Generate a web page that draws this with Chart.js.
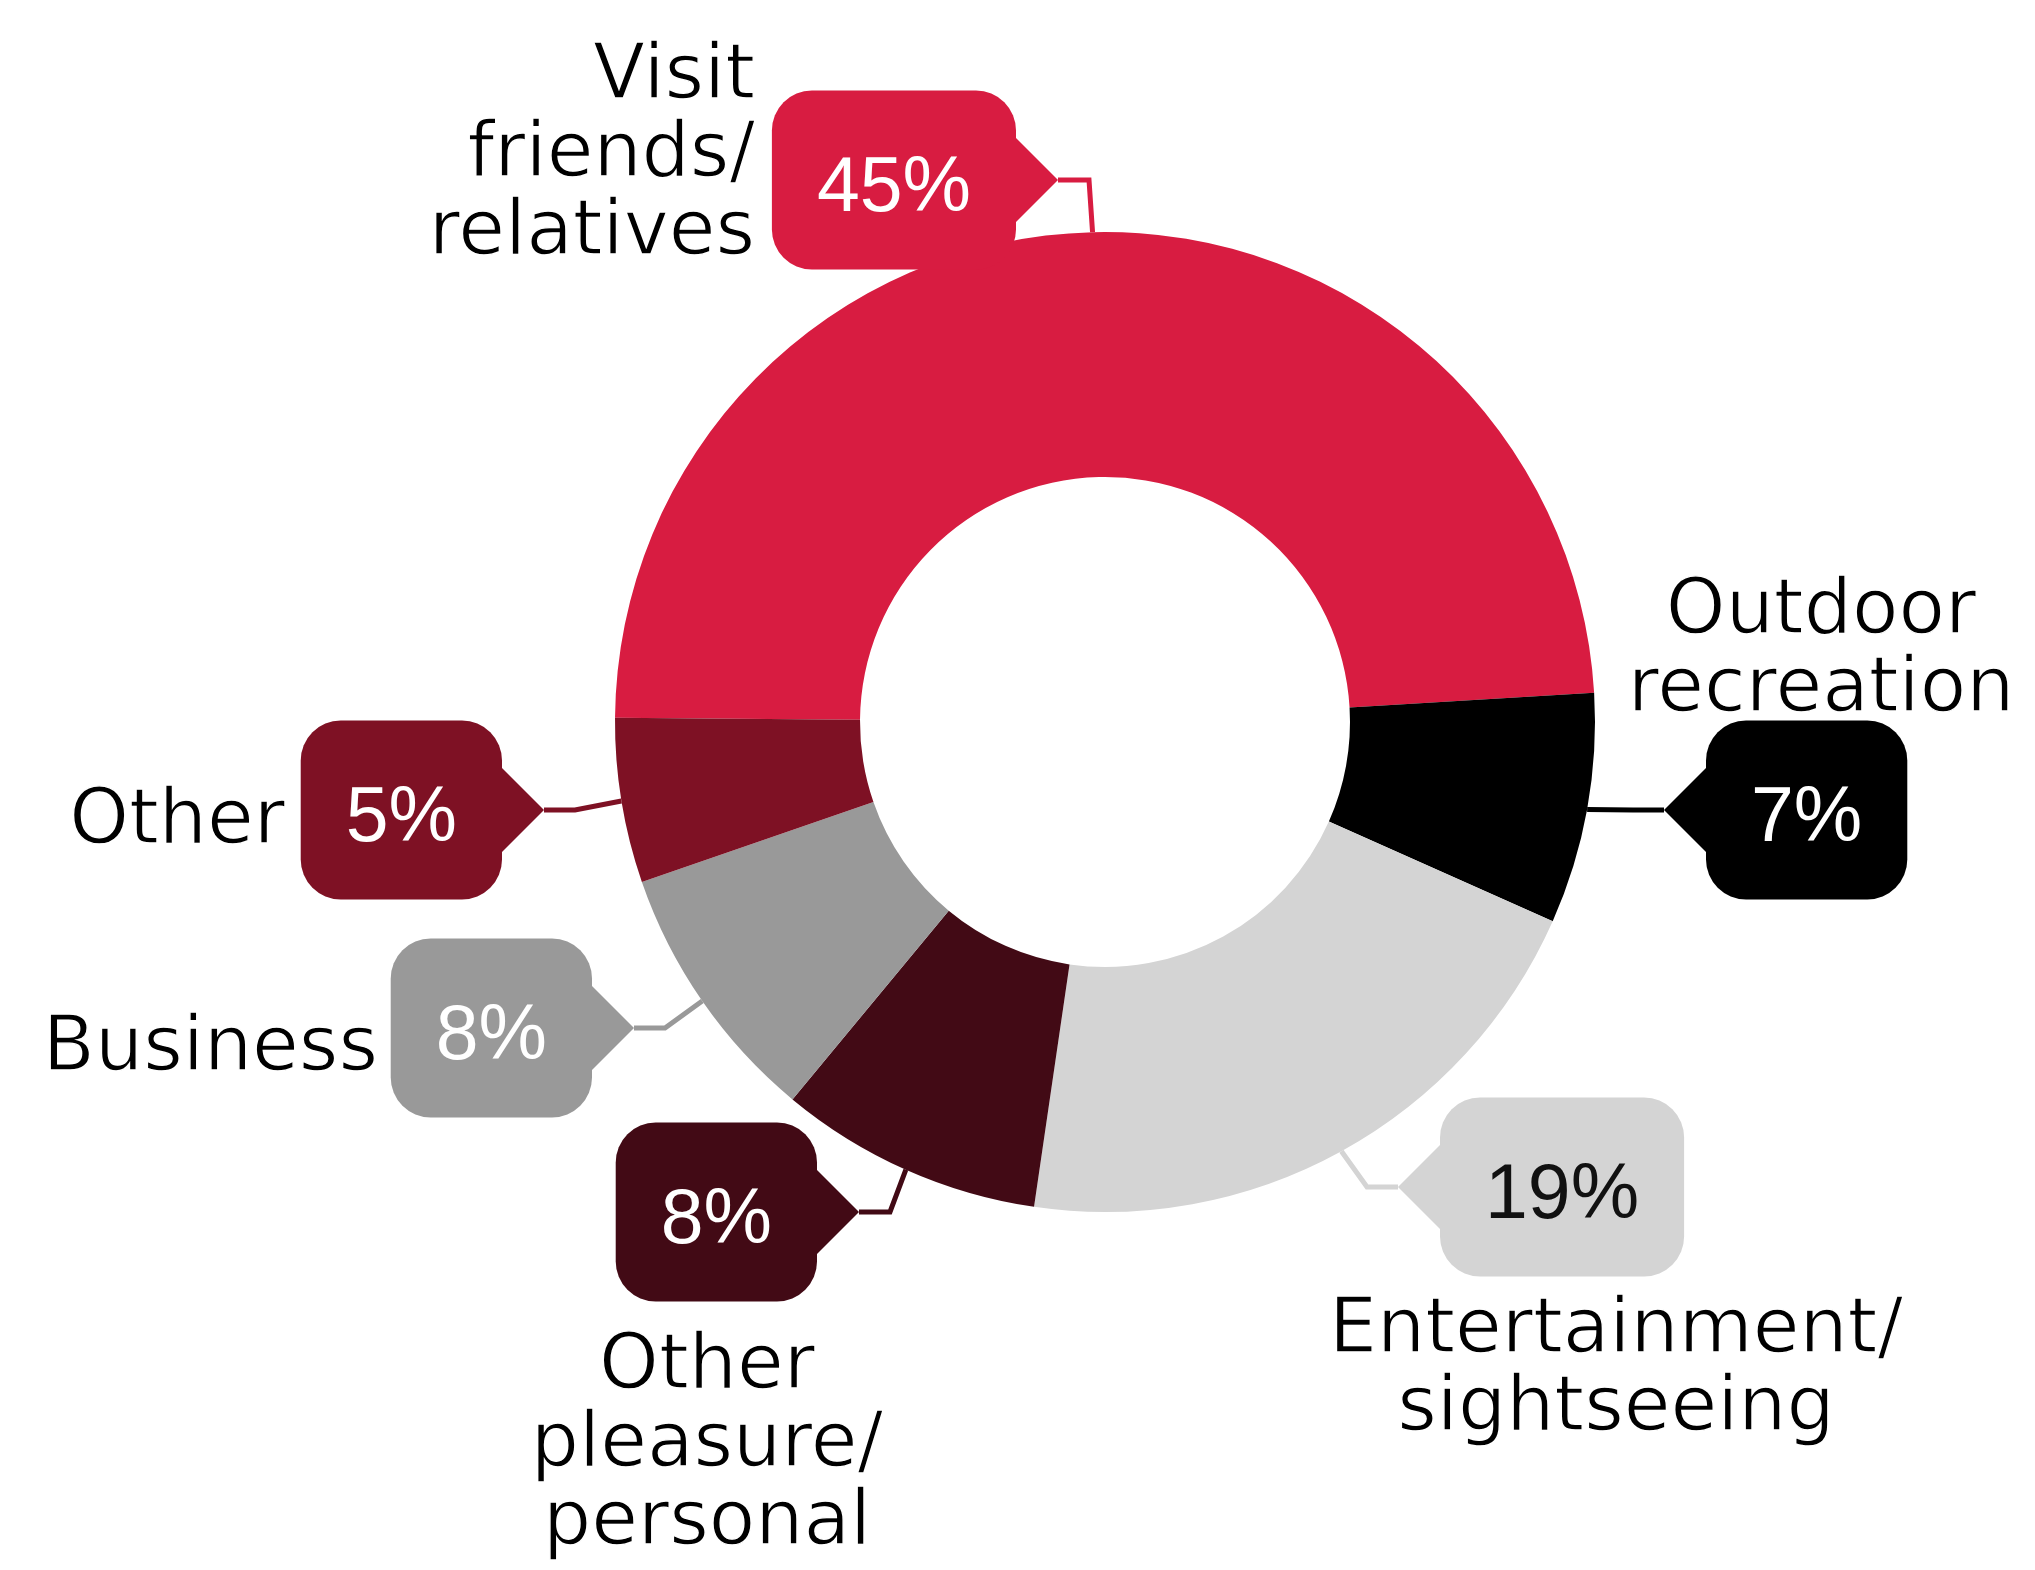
<!DOCTYPE html>
<html>
<head>
<meta charset="utf-8">
<script src="https://cdn.jsdelivr.net/npm/chart.js@4"></script>
<style>
  body { margin: 0; background: #fff; }
  #wrap { width: 2035px; height: 1570px; }
</style>
</head>
<body>
<div id="wrap"><canvas id="tripChart" width="2035" height="1570"></canvas></div>
<script>
// Data
const categories = [
    ['Visit', 'friends/', 'relatives'],
    ['Outdoor', 'recreation'],
    ['Entertainment/', 'sightseeing'],
    ['Other', 'pleasure/', 'personal'],
    ['Business'],
    ['Other']
];
const shares = [45, 7, 19, 8, 8, 5];
const sliceColors = ['#D81C41', '#000000', '#D4D4D4', '#420A15', '#999999', '#7E1124'];
const valueTextColors = ['#ffffff', '#ffffff', '#111111', '#ffffff', '#ffffff', '#ffffff'];

// Callout placement: tip of the pointer, which side the box sits on, where the name goes
const callouts = [
    { tip: [1058, 180], dir: -1, label: { x: 755, y: 98, align: 'right' } },
    { tip: [1664, 810], dir: 1, label: { x: 1821, y: 633, align: 'center' } },
    { tip: [1398, 1187], dir: 1, label: { x: 1616, y: 1352, align: 'center' } },
    { tip: [859, 1212], dir: -1, label: { x: 707, y: 1388, align: 'center' } },
    { tip: [634, 1028], dir: -1, label: { x: 378, y: 1070, align: 'right' } },
    { tip: [544, 810], dir: -1, label: { x: 285, y: 843, align: 'right' } }
];

const nameFont = '76px "DejaVu Sans"';
const valueFont = '77px "Liberation Sans", Arial, sans-serif';
const lineHeight = 78;
const boxH = 179, boxPad = 45, cornerR = 40, pointer = 42, elbowLen = 31;

// Draws the callout boxes, leader lines and names
const calloutPlugin = {
    id: 'callouts',
    afterDatasetsDraw(chart) {
        const ctx = chart.ctx;
        const meta = chart.getDatasetMeta(0);
        ctx.save();
        meta.data.forEach((arc, i) => {
            const c = callouts[i];
            const p = arc.getProps(['x', 'y', 'startAngle', 'endAngle', 'outerRadius'], true);
            const mid = (p.startAngle + p.endAngle) / 2;
            const ex = p.x + Math.cos(mid) * p.outerRadius;
            const ey = p.y + Math.sin(mid) * p.outerRadius;
            const [tx, ty] = c.tip;
            const color = sliceColors[i];

            // leader line
            ctx.strokeStyle = color;
            ctx.lineWidth = 5;
            ctx.lineJoin = 'miter';
            ctx.beginPath();
            ctx.moveTo(ex, ey);
            ctx.lineTo(tx - c.dir * elbowLen, ty);
            ctx.lineTo(tx, ty);
            ctx.stroke();

            // box
            const text = shares[i] + '%';
            ctx.font = valueFont;
            const w = ctx.measureText(text).width + boxPad * 2;
            const near = tx + c.dir * pointer;
            const left = c.dir < 0 ? near - w : near;
            const top = ty - boxH / 2;
            ctx.fillStyle = color;
            ctx.beginPath();
            ctx.roundRect(left, top, w, boxH, cornerR);
            ctx.fill();
            ctx.beginPath();
            ctx.moveTo(near, ty - pointer);
            ctx.lineTo(tx, ty);
            ctx.lineTo(near, ty + pointer);
            ctx.closePath();
            ctx.fill();

            ctx.fillStyle = valueTextColors[i];
            ctx.textAlign = 'center';
            ctx.textBaseline = 'alphabetic';
            ctx.fillText(text, left + w / 2, ty + 31);

            // category name (thin white outline to lighten the strokes a little)
            ctx.font = nameFont;
            ctx.fillStyle = '#000000';
            ctx.strokeStyle = '#ffffff';
            ctx.lineWidth = 1.4;
            ctx.textAlign = c.label.align;
            categories[i].forEach((line, k) => {
                ctx.fillText(line, c.label.x, c.label.y + k * lineHeight);
                ctx.strokeText(line, c.label.x, c.label.y + k * lineHeight);
            });
        });
        ctx.restore();
    }
};

new Chart(document.getElementById('tripChart'), {
    type: 'doughnut',
    data: {
        labels: categories.map(l => l.join(' ')),
        datasets: [{
            data: shares,
            backgroundColor: sliceColors,
            borderWidth: 0,
            hoverOffset: 0,
            offset: 0
        }]
    },
    options: {
        responsive: false,
        devicePixelRatio: 1,
        animation: false,
        events: [],
        cutout: '50%',
        rotation: -89.5,
        layout: { padding: { left: 615, right: 440, top: 232, bottom: 358 } },
        plugins: {
            legend: { display: false },
            tooltip: { enabled: false }
        }
    },
    plugins: [calloutPlugin]
});
</script>
</body>
</html>
